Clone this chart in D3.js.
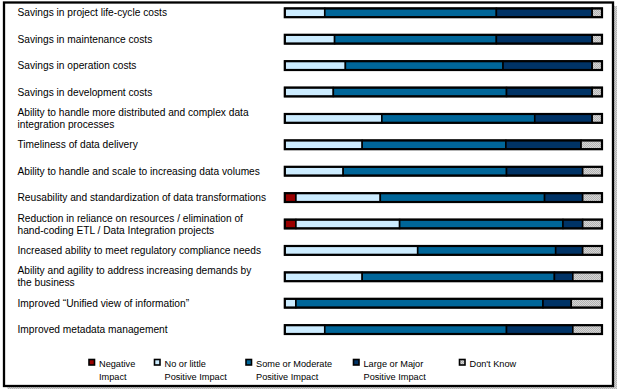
<!DOCTYPE html>
<html><head><meta charset="utf-8">
<script src="https://cdn.jsdelivr.net/npm/d3@7"></script>
<style>html,body{margin:0;padding:0;background:#fff;} svg{display:block;}</style>
</head><body>
<svg id="chart" width="618" height="390"></svg>
<script>
// ---- data ----
const categories = [
  "Savings in project life-cycle costs",
  "Savings in maintenance costs",
  "Savings in operation costs",
  "Savings in development costs",
  "Ability to handle more distributed and complex data\nintegration processes",
  "Timeliness of data delivery",
  "Ability to handle and scale to increasing data volumes",
  "Reusability and standardization of data transformations",
  "Reduction in reliance on resources / elimination of\nhand-coding ETL / Data Integration projects",
  "Increased ability to meet regulatory compliance needs",
  "Ability and agility to address increasing demands by\nthe business",
  "Improved \u201cUnified view of information\u201d",
  "Improved metadata management"
];
const negativeImpact = [0, 0, 0, 0, 0, 0, 0, 3.5, 3.5, 0, 0, 0, 0];
const noOrLittle     = [12.6, 15.7, 19.1, 15.3, 30.6, 24.4, 18.4, 26.6, 32.7, 41.9, 24.4, 3.5, 12.6];
const someModerate   = [54.1, 51.0, 49.7, 54.6, 48.2, 45.3, 51.5, 51.8, 51.5, 43.5, 60.6, 77.9, 57.3];
const largeMajor     = [30.2, 30.2, 28.1, 27.0, 18.1, 23.7, 24.0, 12.0, 6.2, 8.5, 5.8, 8.9, 20.9];
const dontKnow       = [3.1, 3.1, 3.1, 3.1, 3.1, 6.6, 6.1, 6.1, 6.1, 6.1, 9.2, 9.7, 9.2];
const seriesNames = ["Negative\nImpact", "No or little\nPositive Impact", "Some or Moderate\nPositive Impact", "Large or Major\nPositive Impact", "Don't Know"];
const seriesValues = [negativeImpact, noOrLittle, someModerate, largeMajor, dontKnow];

// ---- styles / layout ----
const colors = ["#990000", "#ccecff", "#006699", "#003366", "url(#dither)"];
const legendX = [88.5, 154, 245.5, 353, 459];
const W = 618, H = 390;

const svg = d3.select("#chart");
const defs = svg.append("defs");
const pat = defs.append("pattern").attr("id", "dither")
  .attr("width", 2).attr("height", 2).attr("patternUnits", "userSpaceOnUse");
pat.append("rect").attr("width", 2).attr("height", 2).attr("fill", "#d6d6d6");
pat.append("rect").attr("width", 1).attr("height", 1).attr("fill", "#b2b2b2");
pat.append("rect").attr("x", 1).attr("y", 1).attr("width", 1).attr("height", 1).attr("fill", "#b2b2b2");

// frame with shadow
svg.append("rect").attr("x", 7.5).attr("y", 6).attr("width", 609.5).attr("height", 383)
  .attr("fill", "url(#dither)");
svg.append("rect").attr("x", 4).attr("y", 2.5).attr("width", 609).attr("height", 383.5)
  .attr("fill", "#fff").attr("stroke", "#000").attr("stroke-width", 2.3);

// scales
const x = d3.scaleLinear().domain([0, 100]).range([284.8, 602]);
const y = d3.scalePoint().domain(categories).range([12.8, 329.6]);
const barH = 8.8;

const rows = categories.map((c, i) => {
  let acc = 0;
  const segs = seriesValues.map((s, k) => {
    const seg = {k, x0: acc, x1: acc + s[i]};
    acc += s[i];
    return seg;
  }).filter(s => s.x1 > s.x0);
  return {cat: c, segs};
});

const g = svg.append("g");
const row = g.selectAll("g.row").data(rows).join("g").attr("class", "row");
row.selectAll("rect.seg").data(d => d.segs.map(s => ({...s, cat: d.cat}))).join("rect")
  .attr("class", "seg")
  .attr("x", s => x(s.x0)).attr("width", s => x(s.x1) - x(s.x0))
  .attr("y", s => y(s.cat) - barH / 2).attr("height", barH)
  .attr("fill", s => colors[s.k])
  .attr("stroke", "#000").attr("stroke-width", 1.6);
row.append("rect")
  .attr("x", x(0)).attr("width", x(100) - x(0))
  .attr("y", d => y(d.cat) - barH / 2).attr("height", barH)
  .attr("fill", "none").attr("stroke", "#000").attr("stroke-width", 2.2);

// category labels
const lh = 12;
g.selectAll("text.lab").data(categories).join("text")
  .attr("class", "lab")
  .attr("font-family", "'Liberation Sans', Arial, sans-serif")
  .attr("font-size", 10.2).attr("fill", "#000")
  .each(function(c) {
    const lines = c.split("\n");
    const base = y(c) + 3.6 - (lines.length - 1) * lh / 2;
    d3.select(this).selectAll("tspan").data(lines).join("tspan")
      .attr("x", 17.5).attr("y", (l, j) => base + j * lh).text(l => l);
  });

// legend
const lg = svg.append("g");
const items = lg.selectAll("g").data(seriesNames).join("g")
  .attr("transform", (d, i) => `translate(${legendX[i]},0)`);
items.append("rect").attr("x", 0.5).attr("y", 359.5).attr("width", 5.5).attr("height", 5.5)
  .attr("fill", (d, i) => colors[i]).attr("stroke", "#000").attr("stroke-width", 1.6);
items.append("text")
  .attr("font-family", "'Liberation Sans', Arial, sans-serif")
  .attr("font-size", 9.2).attr("fill", "#000")
  .each(function(d) {
    d3.select(this).selectAll("tspan").data(d.split("\n")).join("tspan")
      .attr("x", 10.5).attr("y", (l, j) => 367 + j * 12.5).text(l => l);
  });
</script>
</body></html>
